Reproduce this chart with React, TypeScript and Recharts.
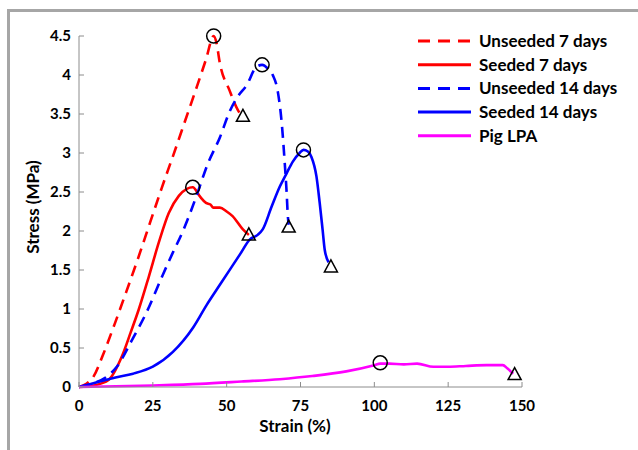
import React from 'react';
import { ComposedChart, Line, Scatter, XAxis, YAxis, Legend, Label } from 'recharts';

// strain (%) / stress (MPa)
const unseeded7Strain = [0, 2.5, 5, 8, 12, 16, 20, 24, 28, 32, 36, 40, 43, 45.6, 46.5, 47.7, 51, 53.8, 55.3];
const unseeded7Stress = [0, 0.04, 0.14, 0.4, 0.8, 1.22, 1.65, 2.1, 2.55, 2.98, 3.42, 3.86, 4.2, 4.5, 4.42, 4.15, 3.8, 3.55, 3.47];

const seeded7Strain = [0, 5, 10, 14.5, 17.5, 20.2, 23.6, 27, 30.4, 33.8, 36.5, 38.5, 41, 43, 44.5, 45.5, 47.7, 50, 52, 55.5, 57.5];
const seeded7Stress = [0, 0.02, 0.09, 0.39, 0.7, 0.99, 1.41, 1.85, 2.23, 2.45, 2.54, 2.56, 2.44, 2.36, 2.34, 2.3, 2.3, 2.25, 2.19, 2.02, 1.95];

const unseeded14Strain = [0, 5, 10, 12.8, 18.2, 22.9, 28.4, 31.5, 35.2, 39.5, 43.6, 47.7, 51, 53.7, 56.8, 60, 62, 64, 65.6, 67.3, 68.7, 69.7, 70.3, 70.7, 71];
const unseeded14Stress = [0, 0.05, 0.15, 0.26, 0.62, 0.96, 1.44, 1.7, 2.0, 2.42, 2.86, 3.2, 3.53, 3.72, 3.87, 4.1, 4.13, 4.08, 4.0, 3.79, 3.36, 2.85, 2.5, 2.2, 2.08];

const seeded14Strain = [0, 3, 7, 12, 18.3, 25, 31.8, 38.6, 43.2, 47.7, 54.5, 57.8, 60.5, 62.2, 65.2, 68, 70.3, 72.4, 74.7, 76, 77.5, 78.7, 80.4, 81.5, 82.5, 83.2, 84.5];
const seeded14Stress = [0, 0.03, 0.07, 0.12, 0.17, 0.26, 0.45, 0.76, 1.05, 1.31, 1.7, 1.89, 1.95, 2.02, 2.31, 2.57, 2.74, 2.89, 3.0, 3.04, 3.02, 2.95, 2.7, 2.36, 2.01, 1.76, 1.6];

const pigStrain = [0, 25, 41, 55, 68, 79, 90.5, 100, 102, 105, 110, 114.5, 120, 125, 131, 138, 143.5, 145, 147];
const pigStress = [0, 0.02, 0.04, 0.07, 0.1, 0.14, 0.2, 0.28, 0.3, 0.3, 0.29, 0.3, 0.26, 0.26, 0.27, 0.28, 0.28, 0.24, 0.17];

// ultimate tensile stress (circles) and failure (triangles)
const peakStrain = [45.6, 38.5, 62, 76, 102];
const peakStress = [4.5, 2.56, 4.13, 3.04, 0.31];
const failureStrain = [55.5, 57.5, 71, 85.3, 147.5];
const failureStress = [3.47, 1.95, 2.05, 1.54, 0.16];

const xTicks = [0, 25, 50, 75, 100, 125, 150];
const yTicks = [0, 0.5, 1, 1.5, 2, 2.5, 3, 3.5, 4, 4.5];

const toPoints = (xs: number[], ys: number[]) => xs.map((x, i) => ({ x, y: ys[i] }));

const series = [
  { name: 'Unseeded 7 days', color: '#ff0000', dash: '11 7', data: toPoints(unseeded7Strain, unseeded7Stress) },
  { name: 'Seeded 7 days', color: '#ff0000', dash: undefined, data: toPoints(seeded7Strain, seeded7Stress) },
  { name: 'Unseeded 14 days', color: '#0000ff', dash: '11 7', data: toPoints(unseeded14Strain, unseeded14Stress) },
  { name: 'Seeded 14 days', color: '#0000ff', dash: undefined, data: toPoints(seeded14Strain, seeded14Stress) },
  { name: 'Pig LPA', color: '#ff00ff', dash: undefined, data: toPoints(pigStrain, pigStress) },
];

const font = 'Lato, sans-serif';
const axisGrey = '#8c8c8c';

const Circle = (props: any) => (
  <circle cx={props.cx} cy={props.cy} r={7} fill="none" stroke="#000" strokeWidth={1.5} />
);

const Triangle = (props: any) => {
  const { cx, cy } = props;
  return (
    <polygon
      points={`${cx},${cy - 7} ${cx - 6.5},${cy + 5} ${cx + 6.5},${cy + 5}`}
      fill="none"
      stroke="#000"
      strokeWidth={1.5}
    />
  );
};

const LegendBox = () => (
  <svg width={220} height={125}>
    {series.map((s, i) => {
      const y = 11 + i * 23.7;
      return (
        <g key={s.name}>
          <line x1={0} x2={53} y1={y} y2={y} stroke={s.color} strokeWidth={3} strokeDasharray={s.dash ? '12 8' : undefined} />
          <text x={61} y={y + 6} fontFamily={font} fontWeight={700} fontSize={17} fill="#000">
            {s.name}
          </text>
        </g>
      );
    })}
  </svg>
);

export default function App() {
  return (
    <div style={{ position: 'absolute', left: 0, top: 0, width: 638, height: 450, background: '#fff' }}>
      <div
        style={{
          position: 'absolute',
          left: 7,
          top: 9,
          width: 631,
          height: 441,
          borderTop: '3px solid #a6a6a6',
          borderLeft: '3px solid #a6a6a6',
          boxSizing: 'border-box',
        }}
      />
      <ComposedChart
        width={638}
        height={450}
        margin={{ top: 36, right: 116, bottom: 0, left: 0 }}
        style={{ position: 'absolute', left: 0, top: 0 }}
      >
        <XAxis
          type="number"
          dataKey="x"
          domain={[0, 150]}
          ticks={xTicks}
          height={63}
          stroke={axisGrey}
          tickSize={-5}
          tickMargin={18}
          tick={{ fill: '#000', fontFamily: font, fontWeight: 700, fontSize: 15 }}
          allowDuplicatedCategory={false}
        >
          <Label
            content={() => (
              <text x={295} y={432} textAnchor="middle" fontFamily={font} fontWeight={700} fontSize={17} fill="#000">
                Strain (%)
              </text>
            )}
          />
        </XAxis>
        <YAxis
          type="number"
          domain={[0, 4.5]}
          ticks={yTicks}
          width={79}
          stroke={axisGrey}
          tickSize={-5}
          tickMargin={13}
          tick={{ fill: '#000', fontFamily: font, fontWeight: 700, fontSize: 15 }}
        >
          <Label
            content={() => (
              <text
                x={32}
                y={207}
                transform="rotate(-90 32 207)"
                textAnchor="middle"
                dominantBaseline="central"
                fontFamily={font}
                fontWeight={700}
                fontSize={17}
                fill="#000"
              >
                Stress (MPa)
              </text>
            )}
          />
        </YAxis>
        {series.map((s) => (
          <Line
            key={s.name}
            data={s.data}
            dataKey="y"
            name={s.name}
            type="monotone"
            stroke={s.color}
            strokeWidth={2.6}
            strokeDasharray={s.dash}
            dot={false}
            activeDot={false}
            isAnimationActive={false}
          />
        ))}
        <Scatter data={toPoints(peakStrain, peakStress)} dataKey="y" shape={Circle} isAnimationActive={false} legendType="none" />
        <Scatter data={toPoints(failureStrain, failureStress)} dataKey="y" shape={Triangle} isAnimationActive={false} legendType="none" />
        <Legend
          layout="vertical"
          align="center"
          verticalAlign="middle"
          content={LegendBox}
          wrapperStyle={{ left: 418, top: 30, width: 220, height: 125 }}
        />
      </ComposedChart>
    </div>
  );
}
